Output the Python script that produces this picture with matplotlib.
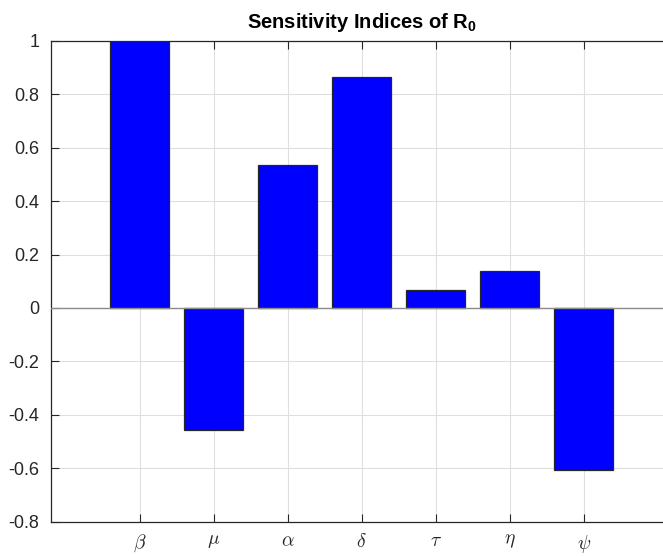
import matplotlib
matplotlib.use('Agg')
import matplotlib.pyplot as plt

params = [r'$\beta$', r'$\mu$', r'$\alpha$', r'$\delta$', r'$\tau$', r'$\eta$', r'$\psi$']
indices = [1.0, -0.457, 0.535, 0.863, 0.067, 0.138, -0.608]
yticks = [-0.8, -0.6, -0.4, -0.2, 0, 0.2, 0.4, 0.6, 0.8, 1]
ytick_labels = ['-0.8', '-0.6', '-0.4', '-0.2', '0', '0.2', '0.4', '0.6', '0.8', '1']

plt.rcParams['font.family'] = ['Liberation Sans', 'DejaVu Sans']
plt.rcParams['mathtext.fontset'] = 'custom'
plt.rcParams['mathtext.bf'] = 'Liberation Sans:bold'
plt.rcParams['mathtext.rm'] = 'Liberation Sans'

fig = plt.figure(figsize=(6.63, 5.56), dpi=100)
ax = fig.add_axes([0.0765, 0.0617, 0.938, 0.865])

xs = list(range(1, len(indices) + 1))
ax.bar(xs, indices, width=0.8, color='#0000ff', edgecolor='#262626', linewidth=0.9, zorder=3)
ax.axhline(0, color='#8c8c8c', linewidth=1.0, zorder=4)

ax.set_xlim(-0.2, 8.2)
ax.set_ylim(-0.8, 1.0)
ax.set_xticks(xs)
ax.set_xticklabels(params, fontsize=14, math_fontfamily='cm', color='#262626')
ax.set_yticks(yticks)
ax.set_yticklabels(ytick_labels, fontsize=13, color='#262626')

ax.grid(True, color='#dfdfdf', linewidth=0.8, zorder=0)
ax.tick_params(direction='in', length=6, width=0.8, color='#262626', top=True, right=False, pad=8)
ax.tick_params(axis='x', pad=8)
for s in ax.spines.values():
    s.set_color('#262626')
    s.set_linewidth(0.9)

ax.set_title(r'Sensitivity Indices of $\mathbf{R_0}$', fontsize=14.5, fontweight='bold', pad=9)

fig.savefig('out.png', dpi=100)
